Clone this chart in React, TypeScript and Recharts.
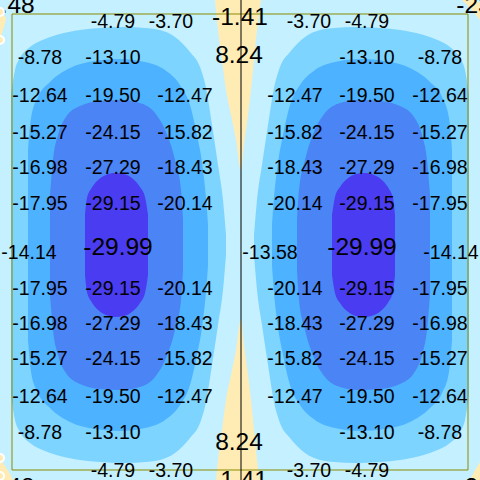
import React from 'react';
import { ComposedChart, Area, Scatter, XAxis, YAxis, ReferenceLine, ReferenceArea } from 'recharts';

// contour band outlines, as [x, top, bottom] (y grows downward)
const paleLeft = [
  [11, 95, 395], [15, 70, 420], [20, 58, 432], [30, 47, 443], [45, 39, 451], [60, 34, 456],
  [80, 30, 460], [100, 28, 462], [125, 27, 463], [145, 28, 462], [160, 30, 460], [175, 37, 453],
  [190, 52, 438], [200, 67, 423], [206, 88, 402], [212, 125, 365], [218, 165, 325], [223, 200, 290],
  [226, 235, 255],
];
const paleRight = [
  [254, 235, 255], [257, 200, 290], [262, 165, 325], [268, 125, 365], [274, 88, 402], [280, 67, 423],
  [290, 52, 438], [305, 37, 453], [320, 30, 460], [335, 28, 462], [355, 27, 463], [380, 28, 462],
  [400, 30, 460], [420, 34, 456], [435, 39, 451], [450, 47, 443], [460, 58, 432], [465, 70, 420],
  [469, 95, 395],
];
const midLeft = [
  [28, 150, 340], [31, 118, 372], [38, 97, 393], [50, 82, 408], [70, 68, 422], [95, 61, 429],
  [120, 59, 431], [145, 62, 428], [165, 70, 420], [180, 85, 405], [190, 105, 385], [197, 135, 355],
  [203, 170, 320], [207, 210, 280], [208, 225, 265],
];
const midRight = [
  [272, 225, 265], [273, 210, 280], [277, 170, 320], [283, 135, 355], [290, 105, 385], [300, 85, 405],
  [315, 70, 420], [335, 62, 428], [360, 59, 431], [385, 61, 429], [410, 68, 422], [430, 82, 408],
  [442, 97, 393], [449, 118, 372], [452, 150, 340],
];
const deepLeft = [
  [50, 195, 295], [53, 160, 330], [58, 135, 355], [66, 117, 373], [80, 106, 384], [100, 101, 389],
  [122, 100, 390], [140, 103, 387], [155, 113, 377], [166, 132, 358], [175, 160, 330], [181, 190, 300],
  [183, 220, 270],
];
const deepRight = [
  [297, 220, 270], [299, 190, 300], [305, 160, 330], [314, 132, 358], [325, 113, 377], [340, 103, 387],
  [358, 100, 390], [380, 101, 389], [400, 106, 384], [414, 117, 373], [422, 135, 355], [427, 160, 330],
  [430, 195, 295],
];
const coreLeft = [
  [85, 215, 275], [87, 198, 292], [91, 189, 301], [97, 181, 309], [106, 175, 315], [115, 173, 317],
  [124, 174, 316], [133, 179, 311], [140, 187, 303], [145, 197, 293], [148, 215, 275],
];
const coreRight = [
  [332, 215, 275], [335, 197, 293], [340, 187, 303], [347, 179, 311], [356, 174, 316], [365, 173, 317],
  [374, 175, 315], [383, 181, 309], [389, 189, 301], [393, 198, 292], [395, 215, 275],
];
// positive (sand) pockets
const sandTop = [
  [215, 0, 0], [218, 0, 30], [222, 0, 60], [226, 0, 90], [231, 0, 115], [236, 0, 140], [241, 0, 170],
  [244, 0, 145], [248, 0, 115], [251, 0, 90], [254, 0, 60], [257, 0, 30], [261, 0, 0],
];
const sandBottom = [
  [215, 490, 490], [218, 460, 490], [222, 430, 490], [226, 400, 490], [231, 375, 490], [236, 350, 490],
  [241, 320, 490], [244, 345, 490], [248, 375, 490], [251, 400, 490], [254, 430, 490], [257, 460, 490],
  [261, 490, 490],
];
const sandTopLeft = [[0, 12, 40], [3, 14, 30], [6, 18, 20]];
const sandTopRight = [[462, 0, 0], [470, 0, 8], [475, 0, 14], [480, 3, 20]];
const sandBottomLeft = [[0, 458, 476], [5, 466, 480], [10, 474, 480], [13, 480, 480]];
const sandBottomRight = [[470, 480, 480], [474, 472, 480], [480, 462, 480]];

// value labels: [x, y, text]
const smallLabels: [number, number, string][] = [
  [113, 21, '-4.79'], [171, 21, '-3.70'], [309, 21, '-3.70'], [367, 21, '-4.79'],
  [40, 57, '-8.78'], [113, 57, '-13.10'], [367, 57, '-13.10'], [440, 57, '-8.78'],
  [40, 95, '-12.64'], [113, 95, '-19.50'], [185, 95, '-12.47'], [295, 95, '-12.47'], [367, 95, '-19.50'], [440, 95, '-12.64'],
  [40, 132, '-15.27'], [113, 132, '-24.15'], [185, 132, '-15.82'], [295, 132, '-15.82'], [367, 132, '-24.15'], [440, 132, '-15.27'],
  [40, 167, '-16.98'], [113, 167, '-27.29'], [185, 167, '-18.43'], [295, 167, '-18.43'], [367, 167, '-27.29'], [440, 167, '-16.98'],
  [40, 203, '-17.95'], [113, 203, '-29.15'], [185, 203, '-20.14'], [295, 203, '-20.14'], [367, 203, '-29.15'], [440, 203, '-17.95'],
  [29, 252, '-14.14'], [270, 252, '-13.58'], [451, 252, '-14.14'],
  [40, 288, '-17.95'], [113, 288, '-29.15'], [185, 288, '-20.14'], [295, 288, '-20.14'], [367, 288, '-29.15'], [440, 288, '-17.95'],
  [40, 323, '-16.98'], [113, 323, '-27.29'], [185, 323, '-18.43'], [295, 323, '-18.43'], [367, 323, '-27.29'], [440, 323, '-16.98'],
  [40, 358, '-15.27'], [113, 358, '-24.15'], [185, 358, '-15.82'], [295, 358, '-15.82'], [367, 358, '-24.15'], [440, 358, '-15.27'],
  [40, 396, '-12.64'], [113, 396, '-19.50'], [185, 396, '-12.47'], [295, 396, '-12.47'], [367, 396, '-19.50'], [440, 396, '-12.64'],
  [40, 432, '-8.78'], [113, 432, '-13.10'], [367, 432, '-13.10'], [440, 432, '-8.78'],
  [113, 470, '-4.79'], [171, 470, '-3.70'], [309, 470, '-3.70'], [367, 470, '-4.79'],
];
const bigLabels: [number, number, string][] = [
  [240, 16, '-1.41'], [239, 54, '8.24'], [118, 246, '-29.99'], [362, 246, '-29.99'],
  [239, 441, '8.24'], [240, 479, '-1.41'],
  [0, 4, '-23.48'], [491, 4, '-23.48'], [0, 486, '-23.48'], [491, 486, '-23.48'],
];

const toRows = (pts: number[][]) => pts.map(([x, lo, hi]) => ({ x, r: [lo, hi] }));
const toLabels = (pts: [number, number, string][]) => pts.map(([x, y, t]) => ({ x, y, t }));

const SKY = '#c4f0ff';
const PALE = '#7dd4ff';
const MID = '#4db2ff';
const DEEP = '#4a84f5';
const CORE = '#4a3cf0';
const SAND = '#ffecb4';

const bands: { pts: number[][]; fill: string }[] = [
  { pts: sandTop, fill: SAND },
  { pts: sandBottom, fill: SAND },
  { pts: sandTopLeft, fill: SAND },
  { pts: sandTopRight, fill: SAND },
  { pts: sandBottomLeft, fill: SAND },
  { pts: sandBottomRight, fill: SAND },
  { pts: paleLeft, fill: PALE },
  { pts: paleRight, fill: PALE },
  { pts: midLeft, fill: MID },
  { pts: midRight, fill: MID },
  { pts: deepLeft, fill: DEEP },
  { pts: deepRight, fill: DEEP },
  { pts: coreLeft, fill: CORE },
  { pts: coreRight, fill: CORE },
];

const textShape = (size: number) => (props: any) => (
  <text
    x={props.cx}
    y={props.cy}
    textAnchor="middle"
    dominantBaseline="central"
    fontSize={size}
    fontFamily="'Liberation Sans', Arial, sans-serif"
    fill="#000"
  >
    {props.payload.t}
  </text>
);

export default function App() {
  return (
    <div style={{ position: 'fixed', left: 0, top: 0, width: 480, height: 480, background: SKY }}>
      <ComposedChart width={480} height={480} margin={{ top: 0, right: 0, bottom: 0, left: 0 }}>
        <XAxis type="number" dataKey="x" domain={[0, 480]} hide allowDataOverflow />
        <YAxis type="number" domain={[0, 480]} reversed hide allowDataOverflow />
        {bands.map((b, i) => (
          <Area
            key={i}
            data={toRows(b.pts)}
            dataKey="r"
            type="monotone"
            fill={b.fill}
            fillOpacity={1}
            stroke="none"
            isAnimationActive={false}
          />
        ))}
        <ReferenceArea x1={12} x2={468} y1={14} y2={470} fill="none" stroke="#8b8b00" strokeWidth={1} />
        <ReferenceLine x={241} stroke="#000" strokeWidth={1} />
        <Scatter data={toLabels(smallLabels)} dataKey="y" shape={textShape(19.5)} isAnimationActive={false} />
        <Scatter data={toLabels(bigLabels)} dataKey="y" shape={textShape(24.5)} isAnimationActive={false} />
      </ComposedChart>
    </div>
  );
}
